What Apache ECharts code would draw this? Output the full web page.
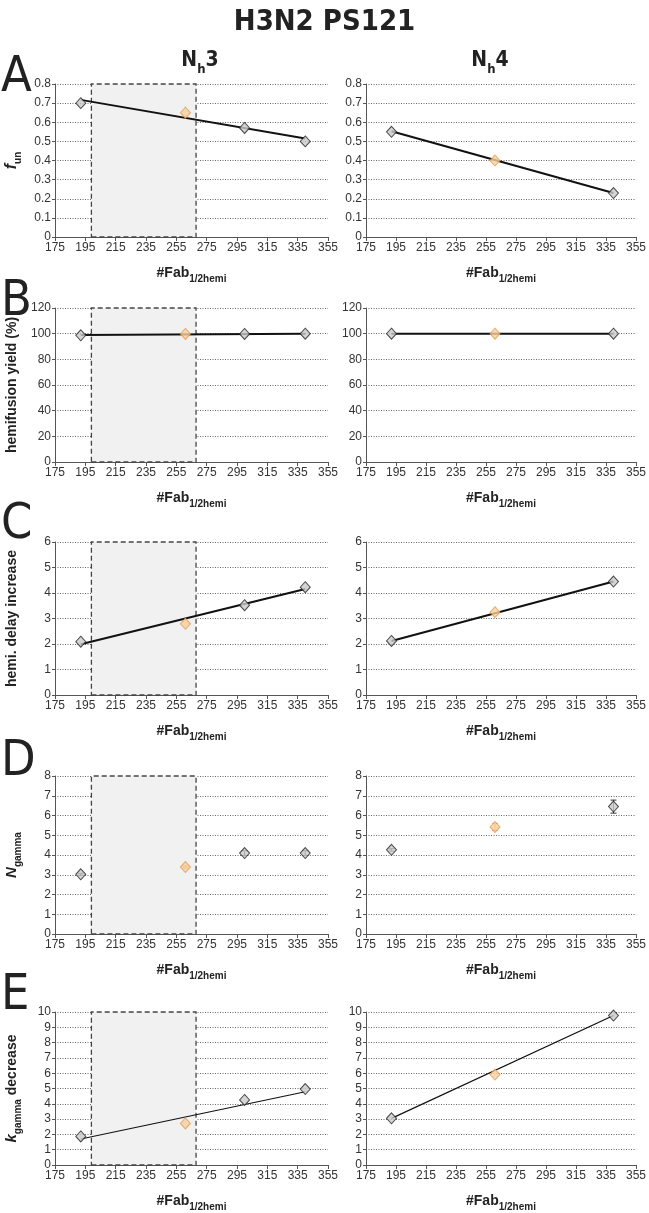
<!DOCTYPE html>
<html>
<head>
<meta charset="utf-8">
<script src="https://cdn.jsdelivr.net/npm/echarts@6/dist/echarts.min.js"></script>
<style>
html,body{margin:0;padding:0;background:#fff;}
#c{width:649px;height:1213px;}
</style>
</head>
<body>
<div id="c"></div>
<script>
// ---------- data ----------
const xTickLabels = [175, 195, 215, 235, 255, 275, 295, 315, 335, 355];
const shadedRange = [199, 268];

// Nh3 (left column): black points and orange point
const nh3X = [192, 300, 340];
const nh3OrangeX = 261;
const nh4X = [192, 340];
const nh4OrangeX = 261;

// Panel A: f_un
const aLeftBlack = [0.70, 0.57, 0.50];
const aLeftOrange = 0.65;
const aLeftTrend = [0.717, 0.515];
const aRightBlack = [0.55, 0.23];
const aRightOrange = 0.40;
const aRightTrend = [0.553, 0.23];

// Panel B: hemifusion yield (%)
const bLeftBlack = [98.7, 99.8, 100];
const bLeftOrange = 99.8;
const bLeftTrend = [98.9, 100];
const bRightBlack = [100, 100];
const bRightOrange = 100;
const bRightTrend = [100, 100];

// Panel C: hemi. delay increase
const cLeftBlack = [2.09, 3.52, 4.23];
const cLeftOrange = 2.79;
const cLeftTrend = [1.99, 4.16];
const cRightBlack = [2.12, 4.45];
const cRightOrange = 3.25;
const cRightTrend = [2.12, 4.45];

// Panel D: N_gamma (with error bars)
const dLeftBlack = [3.02, 4.10, 4.10];
const dLeftBlackErr = [0.05, 0.12, 0.12];
const dLeftOrange = 3.39;
const dLeftOrangeErr = 0.05;
const dRightBlack = [4.26, 6.45];
const dRightBlackErr = [0.06, 0.33];
const dRightOrange = 5.42;
const dRightOrangeErr = 0.17;

// Panel E: k_gamma decrease
const eLeftBlack = [1.87, 4.25, 4.96];
const eLeftOrange = 2.72;
const eLeftTrend = [1.70, 4.79];
const eRightBlack = [3.05, 9.77];
const eRightOrange = 5.91;
const eRightTrend = [3.05, 9.77];

const trendX = [192, 340];

// ---------- layout ----------
const FONT = "'Liberation Sans', Arial, sans-serif";
const NARROW = "'Liberation Sans Narrow', 'DejaVu Sans Condensed', 'Liberation Sans', sans-serif";
const rowTops = [84, 308, 542, 776, 1012];
const rowHeights = [153, 154, 153, 158, 157];
const yMax = [0.8, 120, 6, 8, 10];
const yInt = [0.1, 20, 1, 1, 1];

const yNames = [
  {text: '{i|f}{s|un}', rich: {i: {fontStyle: 'italic', fontWeight: 'bold', fontSize: 16, fontFamily: FONT, lineHeight: 22}, s: {fontWeight: 'bold', fontSize: 10, fontFamily: FONT, verticalAlign: 'bottom', lineHeight: 22}}},
  {text: '{m|hemifusion yield (%)}', rich: {m: {fontWeight: 'bold', fontSize: 14, fontFamily: FONT, lineHeight: 22}}},
  {text: '{m|hemi. delay increase}', rich: {m: {fontWeight: 'bold', fontSize: 14, fontFamily: FONT, lineHeight: 22}}},
  {text: '{i|N}{s|gamma}', rich: {i: {fontStyle: 'italic', fontWeight: 'bold', fontSize: 15, fontFamily: FONT, lineHeight: 22}, s: {fontWeight: 'bold', fontSize: 10, fontFamily: FONT, verticalAlign: 'bottom', lineHeight: 22}}},
  {text: '{i|k}{s|gamma}{m| decrease}', rich: {i: {fontStyle: 'italic', fontWeight: 'bold', fontSize: 15, fontFamily: FONT, lineHeight: 22}, s: {fontWeight: 'bold', fontSize: 10, fontFamily: FONT, verticalAlign: 'bottom', lineHeight: 22}, m: {fontWeight: 'bold', fontSize: 14, fontFamily: FONT, lineHeight: 22}}}
];

const grids = [], xAxes = [], yAxes = [], series = [];

const axisLineStyle = {color: '#555', width: 1};
const labelStyle = {color: '#333', fontSize: 12, fontFamily: FONT};

function addPanel(idx, col, row) {
  const left = col === 0 ? 55 : 366;
  const width = col === 0 ? 273 : 272;
  grids.push({left: left, top: rowTops[row], width: width, height: rowHeights[row], containLabel: false});
  xAxes.push({
    gridIndex: idx, type: 'value', min: 175, max: 355,
    axisLine: {show: true, onZero: false, lineStyle: axisLineStyle},
    axisTick: {show: true, length: 4, inside: false, lineStyle: axisLineStyle, customValues: xTickLabels},
    axisLabel: Object.assign({margin: 5, customValues: xTickLabels}, labelStyle),
    splitLine: {show: false},
    name: '{m|#Fab}{s|1/2hemi}',
    nameLocation: 'middle', nameGap: 25,
    nameTextStyle: {rich: {m: {fontWeight: 'bold', fontSize: 14, fontFamily: FONT, lineHeight: 22, color: '#222'}, s: {fontWeight: 'bold', fontSize: 10, fontFamily: FONT, verticalAlign: 'bottom', lineHeight: 22, color: '#222'}}}
  });
  const ya = {
    gridIndex: idx, type: 'value', min: 0, max: yMax[row], interval: yInt[row],
    axisLine: {show: true, lineStyle: axisLineStyle},
    axisTick: {show: true, length: 3, lineStyle: axisLineStyle},
    axisLabel: Object.assign({margin: 4}, labelStyle),
    splitLine: {show: true, lineStyle: {type: [1, 1.5], color: '#666', width: 1}}
  };
  if (col === 0) {
    ya.name = yNames[row].text;
    ya.nameLocation = 'middle';
    ya.nameRotate = 90;
    ya.nameGap = 32;
    ya.nameTextStyle = {color: '#222', rich: yNames[row].rich};
  }
  yAxes.push(ya);
}

const blackStyle = {color: '#c9c9c9', borderColor: '#222', borderWidth: 1};
const orangeStyle = {color: '#f6cfa3', borderColor: '#e69a48', borderWidth: 1};

function addShade(idx) {
  series.push({
    type: 'line', xAxisIndex: idx, yAxisIndex: idx, data: [], silent: true, z: 1,
    markArea: {
      silent: true,
      itemStyle: {color: '#f1f1f1', borderColor: '#444', borderWidth: 1.3, borderType: [5, 3]},
      data: [[{xAxis: shadedRange[0]}, {xAxis: shadedRange[1]}]]
    }
  });
}

function addTrend(idx, vals, w) {
  series.push({
    type: 'line', xAxisIndex: idx, yAxisIndex: idx, showSymbol: false, silent: true, z: 3,
    lineStyle: {color: '#111', width: w},
    data: trendX.map((x, i) => [x, vals[i]])
  });
}

function addPoints(idx, xs, ys, ox, oy) {
  series.push({
    type: 'scatter', xAxisIndex: idx, yAxisIndex: idx, symbol: 'diamond', symbolSize: [10, 11], z: 5,
    itemStyle: blackStyle,
    data: xs.map((x, i) => [x, ys[i]])
  });
  series.push({
    type: 'scatter', xAxisIndex: idx, yAxisIndex: idx, symbol: 'diamond', symbolSize: [10, 11], z: 5,
    itemStyle: orangeStyle,
    data: [[ox, oy]]
  });
}

function addErrors(idx, xs, ys, errs, color) {
  series.push({
    type: 'custom', xAxisIndex: idx, yAxisIndex: idx, z: 4, silent: true,
    data: xs.map((x, i) => [x, ys[i], errs[i]]),
    renderItem: function (params, api) {
      const x = api.value(0), y = api.value(1), e = api.value(2);
      const p1 = api.coord([x, y + e]);
      const p2 = api.coord([x, y - e]);
      const st = {stroke: color, lineWidth: 1};
      return {type: 'group', children: [
        {type: 'line', shape: {x1: p1[0], y1: p1[1], x2: p2[0], y2: p2[1]}, style: st},
        {type: 'line', shape: {x1: p1[0] - 3, y1: p1[1], x2: p1[0] + 3, y2: p1[1]}, style: st},
        {type: 'line', shape: {x1: p2[0] - 3, y1: p2[1], x2: p2[0] + 3, y2: p2[1]}, style: st}
      ]};
    }
  });
}

// Build panels: index = row*2 + col
for (let row = 0; row < 5; row++) {
  addPanel(row * 2, 0, row);
  addPanel(row * 2 + 1, 1, row);
}
for (let row = 0; row < 5; row++) addShade(row * 2);

// A
addTrend(0, aLeftTrend, 2); addPoints(0, nh3X, aLeftBlack, nh3OrangeX, aLeftOrange);
addTrend(1, aRightTrend, 2); addPoints(1, nh4X, aRightBlack, nh4OrangeX, aRightOrange);
// B
addTrend(2, bLeftTrend, 2); addPoints(2, nh3X, bLeftBlack, nh3OrangeX, bLeftOrange);
addTrend(3, bRightTrend, 2); addPoints(3, nh4X, bRightBlack, nh4OrangeX, bRightOrange);
// C
addTrend(4, cLeftTrend, 2); addPoints(4, nh3X, cLeftBlack, nh3OrangeX, cLeftOrange);
addTrend(5, cRightTrend, 2); addPoints(5, nh4X, cRightBlack, nh4OrangeX, cRightOrange);
// D
addErrors(6, nh3X, dLeftBlack, dLeftBlackErr, '#333');
addErrors(6, [nh3OrangeX], [dLeftOrange], [dLeftOrangeErr], '#e69a48');
addPoints(6, nh3X, dLeftBlack, nh3OrangeX, dLeftOrange);
addErrors(7, nh4X, dRightBlack, dRightBlackErr, '#333');
addErrors(7, [nh4OrangeX], [dRightOrange], [dRightOrangeErr], '#e69a48');
addPoints(7, nh4X, dRightBlack, nh4OrangeX, dRightOrange);
// E
addTrend(8, eLeftTrend, 1.2); addPoints(8, nh3X, eLeftBlack, nh3OrangeX, eLeftOrange);
addTrend(9, eRightTrend, 1.2); addPoints(9, nh4X, eRightBlack, nh4OrangeX, eRightOrange);

const letters = ['A', 'B', 'C', 'D', 'E'];
const letterY = [78, 302, 525, 762, 996];

const graphics = [
  {type: 'text', left: 'center', top: 8, style: {text: 'H3N2 PS121', font: "bold 29px " + NARROW, fill: '#222'}},
  {type: 'text', x: 200, y: 61, style: {text: '{n|N}{s|h}{n|3}', textAlign: 'center', textVerticalAlign: 'middle',
    rich: {n: {fontSize: 21, fontWeight: 'bold', fontFamily: NARROW, lineHeight: 26, fill: '#222'}, s: {fontSize: 13, fontWeight: 'bold', fontFamily: NARROW, verticalAlign: 'bottom', lineHeight: 30, fill: '#222'}}}},
  {type: 'text', x: 490, y: 61, style: {text: '{n|N}{s|h}{n|4}', textAlign: 'center', textVerticalAlign: 'middle',
    rich: {n: {fontSize: 21, fontWeight: 'bold', fontFamily: NARROW, lineHeight: 26, fill: '#222'}, s: {fontSize: 13, fontWeight: 'bold', fontFamily: NARROW, verticalAlign: 'bottom', lineHeight: 30, fill: '#222'}}}}
];
letters.forEach((l, i) => {
  graphics.push({type: 'text', x: 1, y: letterY[i], style: {text: l, font: "normal 50px " + NARROW, fill: '#222', textVerticalAlign: 'middle'}});
});

const chart = echarts.init(document.getElementById('c'), null, {renderer: 'canvas'});
chart.setOption({
  animation: false,
  backgroundColor: '#fff',
  grid: grids,
  xAxis: xAxes,
  yAxis: yAxes,
  series: series,
  graphic: graphics
});
</script>
</body>
</html>
